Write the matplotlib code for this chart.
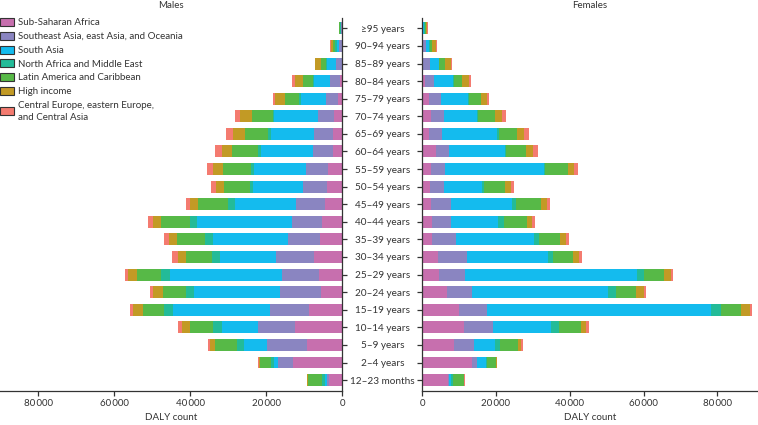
import matplotlib.pyplot as plt
from matplotlib.patches import Patch
import numpy as np

plt.rcParams['font.family'] = ['Lato', 'DejaVu Sans']

ages = ['≥95 years', '90–94 years', '85–89 years', '80–84 years', '75–79 years',
        '70–74 years', '65–69 years', '60–64 years', '55–59 years', '50–54 years',
        '45–49 years', '40–44 years', '35–39 years', '30–34 years', '25–29 years',
        '20–24 years', '15–19 years', '10–14 years', '5–9 years', '2–4 years',
        '12–23 months']

regions = ['Sub-Saharan Africa', 'Southeast Asia, east Asia, and Oceania', 'South Asia',
           'North Africa and Middle East', 'Latin America and Caribbean', 'High income',
           'Central Europe, eastern Europe,\nand Central Asia']
colors = ['#c76fae', '#8a85c1', '#14bbee', '#23bb98', '#57b947', '#c29a25', '#f47b70']

# DALY counts in thousands, rows follow ages
males_ssa = [0.05, 0.1, 0.1, 0.45, 1.05, 2.0, 2.3, 2.5, 3.6, 3.95, 4.4, 5.2, 5.9, 7.5, 6.1, 5.6, 8.6, 12.5, 9.1, 12.8, 3.5]
males_sea = [0.1, 0.6, 1.6, 2.6, 3.15, 4.2, 5.2, 5.1, 5.9, 6.2, 7.7, 7.9, 8.4, 10.0, 9.6, 10.8, 10.35, 9.6, 10.6, 4.0, 0.4]
males_sa = [0.1, 0.7, 2.2, 4.4, 6.6, 11.6, 11.2, 13.6, 13.6, 13.2, 16.0, 25.1, 19.6, 14.6, 29.6, 22.5, 25.4, 9.6, 6.05, 1.2, 0.7]
males_name = [0.2, 0.35, 0.2, 0.25, 0.45, 0.35, 0.8, 1.0, 0.8, 0.8, 1.9, 1.85, 2.1, 2.2, 2.3, 2.2, 2.5, 2.3, 2.0, 0.8, 0.6]
males_lat = [0.3, 0.5, 1.3, 2.45, 3.85, 5.6, 6.0, 6.75, 7.5, 6.9, 7.9, 7.5, 7.3, 6.75, 6.3, 6.1, 5.6, 6.1, 5.8, 2.8, 3.8]
males_hi = [0.05, 0.6, 1.6, 2.3, 2.55, 3.1, 3.2, 2.7, 2.5, 2.2, 2.0, 2.1, 2.1, 2.2, 2.3, 2.5, 2.45, 2.1, 1.2, 0.15, 0.15]
males_ce = [0.02, 0.25, 0.2, 0.6, 0.5, 1.3, 1.7, 1.75, 1.5, 1.3, 1.2, 1.3, 1.4, 1.4, 0.95, 0.8, 0.9, 0.95, 0.6, 0.25, 0.15]

females_ssa = [0.05, 0.1, 0.15, 0.7, 2.0, 2.45, 1.9, 3.8, 2.45, 2.2, 2.5, 2.7, 2.7, 4.4, 4.6, 6.8, 10.0, 11.3, 8.8, 13.55, 7.15]
females_sea = [0.1, 0.9, 1.9, 2.5, 3.15, 3.5, 3.5, 3.5, 3.8, 3.7, 5.25, 5.05, 6.5, 7.7, 6.95, 6.7, 7.7, 7.8, 5.15, 1.35, 0.2]
females_sa = [0.5, 0.9, 2.45, 5.15, 7.3, 9.0, 15.0, 15.2, 26.85, 10.4, 16.5, 12.9, 21.25, 21.9, 46.75, 36.9, 60.7, 15.9, 5.9, 2.5, 0.6]
females_name = [0.2, 0.2, 0.1, 0.2, 0.2, 0.35, 0.45, 0.2, 0.3, 0.45, 1.25, 1.45, 1.35, 1.55, 1.8, 2.15, 2.45, 2.15, 1.25, 0.2, 0.35]
females_lat = [0.3, 0.55, 1.55, 2.2, 3.25, 4.4, 4.9, 5.6, 6.05, 5.8, 6.7, 6.25, 5.7, 5.25, 5.35, 5.4, 5.6, 5.8, 4.9, 2.5, 3.0]
females_hi = [0.3, 1.25, 1.7, 1.9, 1.7, 1.9, 1.8, 1.8, 1.7, 1.55, 1.55, 1.35, 1.6, 1.7, 2.0, 2.15, 2.25, 1.6, 0.7, 0.1, 0.1]
females_ce = [0.05, 0.2, 0.35, 0.7, 0.65, 1.2, 1.35, 1.25, 1.1, 0.8, 0.8, 1.0, 0.8, 0.9, 0.65, 0.55, 0.7, 0.7, 0.55, 0.1, 0.15]

males = [males_ssa, males_sea, males_sa, males_name, males_lat, males_hi, males_ce]
females = [females_ssa, females_sea, females_sa, females_name, females_lat, females_hi, females_ce]

fig = plt.figure(figsize=(7.58, 4.25), dpi=100)
bot, top = 1 - 391 / 425, 1 - 18 / 425
axL = fig.add_axes([0.0, bot, 342 / 758, top - bot])
axR = fig.add_axes([422 / 758, bot, 336 / 758, top - bot])

y = np.arange(len(ages))
txt = '#333333'


def stack(ax, data):
    left = np.zeros(len(ages))
    for vals, c in zip(data, colors):
        v = np.array(vals) * 1000
        ax.barh(y, v, left=left, height=0.68, color=c, edgecolor='none')
        left += v


stack(axL, males)
stack(axR, females)

axL.set_xlim(90000, 0)
axR.set_xlim(0, 91000)
for ax in (axL, axR):
    ax.set_ylim(20.62, -0.59)
    ax.set_xticks([0, 20000, 40000, 60000, 80000])
    ax.set_xticklabels(['0', '20\u2009000', '40\u2009000', '60\u2009000', '80\u2009000'],
                       fontsize=7, color=txt)
    ax.set_xlabel('DALY count', fontsize=7, color=txt, labelpad=3)
    ax.spines['top'].set_visible(False)
    ax.tick_params(axis='both', length=3.5, width=0.9, color=txt)
    ax.tick_params(axis='x', pad=2.5)
    ax.spines['bottom'].set_linewidth(0.9)
    ax.spines['bottom'].set_color(txt)

axL.spines['left'].set_visible(False)
axL.spines['right'].set_linewidth(0.9)
axL.spines['right'].set_color(txt)
axL.yaxis.tick_right()
axL.set_yticks(y)
axL.set_yticklabels([])

axR.spines['right'].set_visible(False)
axR.spines['left'].set_linewidth(0.9)
axR.spines['left'].set_color(txt)
axR.set_yticks(y)
axR.set_yticklabels(ages, fontsize=7.2, color=txt)
axR.tick_params(axis='y', pad=25)
for lab in axR.get_yticklabels():
    lab.set_horizontalalignment('center')

axL.set_title('Males', fontsize=7, color=txt, pad=7)
axR.set_title('Females', fontsize=7, color=txt, pad=7)

handles = [Patch(facecolor=c, edgecolor='#333333', linewidth=0.8) for c in colors]
leg = axL.legend(handles, regions, loc='upper left', bbox_to_anchor=(0.0, 1.0),
                 frameon=False, fontsize=7, handlelength=1.4, handleheight=0.9,
                 handletextpad=0.4, labelspacing=0.45, borderaxespad=0.0, borderpad=0.0)
for t in leg.get_texts():
    t.set_color(txt)
    t.set_linespacing(1.45)

fig.savefig('out.png', dpi=100)
